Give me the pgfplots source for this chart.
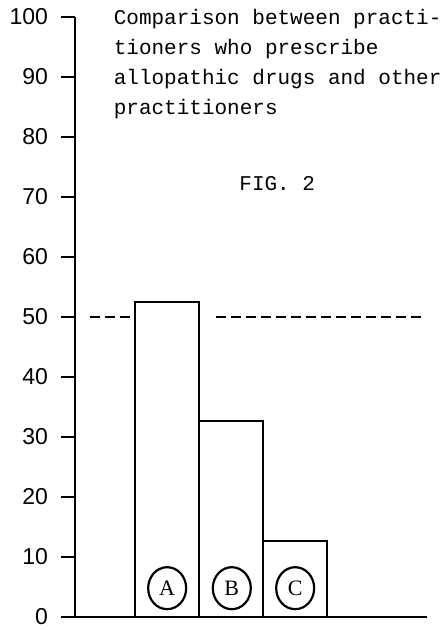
\documentclass[border=0pt]{standalone}
\usepackage{pgfplots}
\pgfplotsset{compat=1.18}
\usetikzlibrary{shapes.geometric}
\usepackage{fontspec}
\setmainfont{Liberation Sans}
\newfontfamily\monofont{Liberation Mono}
\newfontfamily\serifc{Liberation Serif}
\pgfplotstableread{
x y
1.445 52.5
2.445 32.7
3.44 12.7
}\bars
\begin{document}
\begin{tikzpicture}
\useasboundingbox (-37.5pt,-6.5pt) rectangle (186.5pt,308.5pt);
\begin{axis}[
 at={(0,0)}, anchor=origin,
 x=32pt, y=3pt,
 xmin=0, xmax=5.5, ymin=0, ymax=100,
 axis x line=bottom, axis y line=left,
 axis line style={-, line width=1.4pt},
 xtick=\empty,
 ytick={0,10,...,100},
 tick align=outside,
 major tick length=7pt,
 tick style={line width=1.2pt, black},
 yticklabel style={font=\fontsize{11.5}{12}\selectfont, xshift=-3pt},
 /pgf/number format/assume math mode=true,
 clip=false,
]
\addplot[ybar, bar width=1, draw=black, fill=white, line width=1pt] table[x=x,y=y] {\bars};
\addplot[sharp plot, dash pattern=on 5pt off 2.5pt, line width=1.2pt, black] coordinates {(0.23,50) (0.94,50)};
\addplot[sharp plot, dash pattern=on 5pt off 2.5pt, line width=1.2pt, black] coordinates {(2.2,50) (5.47,50)};
\node[draw, ellipse, line width=1.1pt, minimum width=19pt, minimum height=21pt, inner sep=0pt, font=\serifc\fontsize{11}{10}\selectfont] at (axis cs:1.44,4.8) {A};
\node[draw, ellipse, line width=1.1pt, minimum width=19pt, minimum height=21pt, inner sep=0pt, font=\serifc\fontsize{11}{10}\selectfont] at (axis cs:2.45,4.8) {B};
\node[draw, ellipse, line width=1.1pt, minimum width=19pt, minimum height=21pt, inner sep=0pt, font=\serifc\fontsize{11}{10}\selectfont] at (axis cs:3.44,4.8) {C};
\node[anchor=north west, inner sep=0pt, align=left, font=\monofont\fontsize{10.5}{15}\selectfont] at (axis cs:0.6,101.3) {Comparison between practi-\\ tioners who prescribe\\allopathic drugs and other\\practitioners};
\node[inner sep=0pt, font=\monofont\fontsize{10.5}{12}\selectfont] at (axis cs:3.16,72.3) {FIG. 2};
\end{axis}
\end{tikzpicture}
\end{document}
